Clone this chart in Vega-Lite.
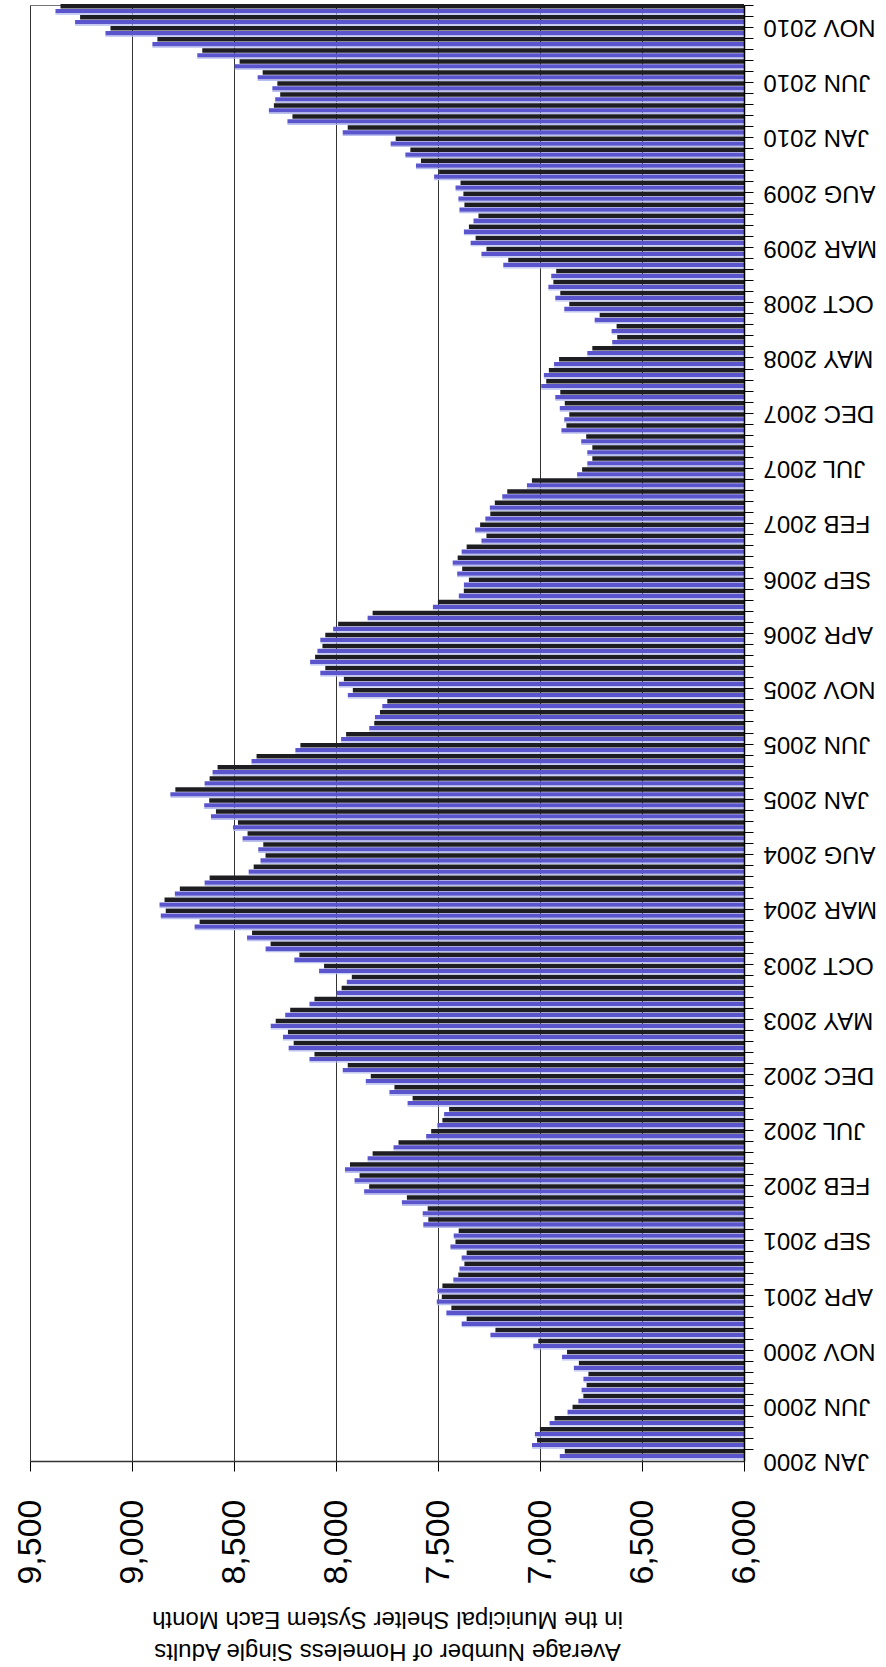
{
  "$schema": "https://vega.github.io/schema/vega-lite/v6.json",
  "width": 714,
  "height": 1456,
  "autosize": {"type": "none"},
  "padding": {"left": 30, "top": 5, "right": 142, "bottom": 206},
  "background": "white",
  "config": {"view": {"stroke": "#777", "strokeWidth": 1}, "font": "Liberation Sans"},
  "data": {"values": [
    {"month": "JAN 2000", "value": 6903}, {"month": "FEB 2000", "value": 7039}, {"month": "MAR 2000", "value": 7025}, {"month": "APR 2000", "value": 6953}, {"month": "MAY 2000", "value": 6865}, {"month": "JUN 2000", "value": 6812}, {"month": "JUL 2000", "value": 6796}, {"month": "AUG 2000", "value": 6787}, {"month": "SEP 2000", "value": 6834}, {"month": "OCT 2000", "value": 6892}, {"month": "NOV 2000", "value": 7033}, {"month": "DEC 2000", "value": 7243},
    {"month": "JAN 2001", "value": 7384}, {"month": "FEB 2001", "value": 7459}, {"month": "MAR 2001", "value": 7506}, {"month": "APR 2001", "value": 7503}, {"month": "MAY 2001", "value": 7425}, {"month": "JUN 2001", "value": 7395}, {"month": "JUL 2001", "value": 7384}, {"month": "AUG 2001", "value": 7439}, {"month": "SEP 2001", "value": 7423}, {"month": "OCT 2001", "value": 7572}, {"month": "NOV 2001", "value": 7575}, {"month": "DEC 2001", "value": 7677},
    {"month": "JAN 2002", "value": 7862}, {"month": "FEB 2002", "value": 7909}, {"month": "MAR 2002", "value": 7956}, {"month": "APR 2002", "value": 7845}, {"month": "MAY 2002", "value": 7718}, {"month": "JUN 2002", "value": 7558}, {"month": "JUL 2002", "value": 7503}, {"month": "AUG 2002", "value": 7470}, {"month": "SEP 2002", "value": 7649}, {"month": "OCT 2002", "value": 7738}, {"month": "NOV 2002", "value": 7854}, {"month": "DEC 2002", "value": 7967},
    {"month": "JAN 2003", "value": 8130}, {"month": "FEB 2003", "value": 8232}, {"month": "MAR 2003", "value": 8260}, {"month": "APR 2003", "value": 8320}, {"month": "MAY 2003", "value": 8249}, {"month": "JUN 2003", "value": 8130}, {"month": "JUL 2003", "value": 7997}, {"month": "AUG 2003", "value": 7947}, {"month": "SEP 2003", "value": 8083}, {"month": "OCT 2003", "value": 8204}, {"month": "NOV 2003", "value": 8345}, {"month": "DEC 2003", "value": 8436},
    {"month": "JAN 2004", "value": 8693}, {"month": "FEB 2004", "value": 8859}, {"month": "MAR 2004", "value": 8865}, {"month": "APR 2004", "value": 8790}, {"month": "MAY 2004", "value": 8644}, {"month": "JUN 2004", "value": 8428}, {"month": "JUL 2004", "value": 8370}, {"month": "AUG 2004", "value": 8381}, {"month": "SEP 2004", "value": 8458}, {"month": "OCT 2004", "value": 8505}, {"month": "NOV 2004", "value": 8613}, {"month": "DEC 2004", "value": 8646},
    {"month": "JAN 2005", "value": 8812}, {"month": "FEB 2005", "value": 8644}, {"month": "MAR 2005", "value": 8605}, {"month": "APR 2005", "value": 8414}, {"month": "MAY 2005", "value": 8199}, {"month": "JUN 2005", "value": 7975}, {"month": "JUL 2005", "value": 7837}, {"month": "AUG 2005", "value": 7809}, {"month": "SEP 2005", "value": 7773}, {"month": "OCT 2005", "value": 7942}, {"month": "NOV 2005", "value": 7986}, {"month": "DEC 2005", "value": 8077},
    {"month": "JAN 2006", "value": 8127}, {"month": "FEB 2006", "value": 8091}, {"month": "MAR 2006", "value": 8077}, {"month": "APR 2006", "value": 8014}, {"month": "MAY 2006", "value": 7845}, {"month": "JUN 2006", "value": 7525}, {"month": "JUL 2006", "value": 7398}, {"month": "AUG 2006", "value": 7373}, {"month": "SEP 2006", "value": 7406}, {"month": "OCT 2006", "value": 7428}, {"month": "NOV 2006", "value": 7384}, {"month": "DEC 2006", "value": 7287},
    {"month": "JAN 2007", "value": 7318}, {"month": "FEB 2007", "value": 7268}, {"month": "MAR 2007", "value": 7246}, {"month": "APR 2007", "value": 7185}, {"month": "MAY 2007", "value": 7064}, {"month": "JUN 2007", "value": 6818}, {"month": "JUL 2007", "value": 6768}, {"month": "AUG 2007", "value": 6768}, {"month": "SEP 2007", "value": 6798}, {"month": "OCT 2007", "value": 6895}, {"month": "NOV 2007", "value": 6881}, {"month": "DEC 2007", "value": 6903},
    {"month": "JAN 2008", "value": 6925}, {"month": "FEB 2008", "value": 6994}, {"month": "MAR 2008", "value": 6981}, {"month": "APR 2008", "value": 6931}, {"month": "MAY 2008", "value": 6768}, {"month": "JUN 2008", "value": 6646}, {"month": "JUL 2008", "value": 6649}, {"month": "AUG 2008", "value": 6732}, {"month": "SEP 2008", "value": 6881}, {"month": "OCT 2008", "value": 6925}, {"month": "NOV 2008", "value": 6959}, {"month": "DEC 2008", "value": 6945},
    {"month": "JAN 2009", "value": 7180}, {"month": "FEB 2009", "value": 7287}, {"month": "MAR 2009", "value": 7340}, {"month": "APR 2009", "value": 7373}, {"month": "MAY 2009", "value": 7326}, {"month": "JUN 2009", "value": 7395}, {"month": "JUL 2009", "value": 7400}, {"month": "AUG 2009", "value": 7414}, {"month": "SEP 2009", "value": 7519}, {"month": "OCT 2009", "value": 7608}, {"month": "NOV 2009", "value": 7660}, {"month": "DEC 2009", "value": 7732},
    {"month": "JAN 2010", "value": 7967}, {"month": "FEB 2010", "value": 8238}, {"month": "MAR 2010", "value": 8329}, {"month": "APR 2010", "value": 8298}, {"month": "MAY 2010", "value": 8312}, {"month": "JUN 2010", "value": 8384}, {"month": "JUL 2010", "value": 8497}, {"month": "AUG 2010", "value": 8680}, {"month": "SEP 2010", "value": 8900}, {"month": "OCT 2010", "value": 9130}, {"month": "NOV 2010", "value": 9279}, {"month": "DEC 2010", "value": 9375}
  ]},
  "encoding": {
    "y": {
      "field": "month",
      "type": "nominal",
      "sort": null,
      "scale": {"type": "band", "paddingInner": 0, "paddingOuter": 0, "reverse": true},
      "axis": {
        "orient": "right",
        "title": null,
        "zindex": 1,
        "bandPosition": 0,
        "labelOffset": 5.5,
        "tickSize": 9,
        "tickColor": "#000",
        "tickWidth": 1,
        "domainColor": "#000",
        "domainWidth": 1.5,
        "labelFont": "Liberation Sans",
        "labelFontSize": 24,
        "labelColor": "#000",
        "labelAngle": 180,
        "labelAlign": "right",
        "labelBaseline": "middle",
        "labelPadding": 10,
        "labelOverlap": false,
        "labelBound": false,
        "labelExpr": "(indexof(['JAN','FEB','MAR','APR','MAY','JUN','JUL','AUG','SEP','OCT','NOV','DEC'], slice(datum.value, 0, 3)) + 12 * (toNumber(slice(datum.value, 4)) - 2000)) % 5 === 0 ? datum.value : ''"
      }
    },
    "x": {
      "field": "value",
      "type": "quantitative",
      "scale": {"domain": [6000, 9500], "reverse": true, "zero": false, "nice": false},
      "axis": {
        "orient": "bottom",
        "values": [6000, 6500, 7000, 7500, 8000, 8500, 9000, 9500],
        "format": ",.0f",
        "grid": true,
        "gridColor": "#333",
        "gridWidth": 1,
        "tickSize": 10,
        "tickColor": "#000",
        "domainColor": "#333",
        "domainWidth": 1.5,
        "labelFont": "Liberation Sans",
        "labelAngle": -90,
        "labelAlign": "right",
        "labelBaseline": "middle",
        "labelFontSize": 34,
        "labelColor": "#000",
        "labelPadding": 28,
        "labelFlush": false,
        "labelOverlap": false,
        "labelBound": false,
        "title": ["Average Number of Homeless Single Adults", "in the Municipal Shelter System Each Month"],
        "titleFont": "Liberation Sans",
        "titleFontSize": 24,
        "titleFontWeight": "normal",
        "titleColor": "#000",
        "titleAngle": 180,
        "titleAlign": "center",
        "titleBaseline": "bottom",
        "titleY": 177,
        "titleLineHeight": 32
      }
    },
    "x2": {"datum": 6000}
  },
  "layer": [
    {"mark": {"type": "bar", "color": "#1d1d22", "size": 4.5, "yOffset": -4.25, "xOffset": 5}},
    {"mark": {"type": "bar", "color": "#5a55cc", "size": 4.3, "yOffset": 0.65}},
    {"mark": {"type": "bar", "color": "#b8c0f0", "size": 1.2, "yOffset": 3.6}}
  ]
}
